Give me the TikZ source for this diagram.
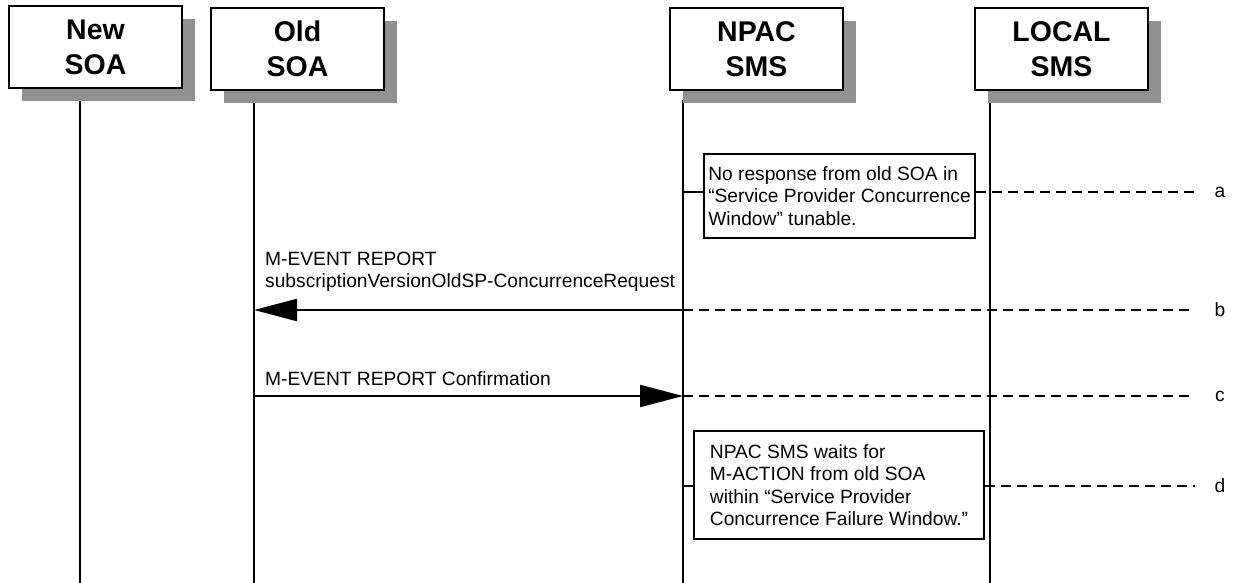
\documentclass[tikz,border=0pt]{standalone}
\usepackage{fontspec}
\setmainfont{Liberation Sans}
\usetikzlibrary{arrows.meta,shadows,calc}
\definecolor{shadowgray}{RGB}{145,145,145}
\begin{document}
\begin{tikzpicture}[x=1pt,y=-1pt,
  actor/.style={draw,line width=2pt,fill=white,minimum width=173pt,minimum height=82pt,
    inner sep=0pt,anchor=north west,align=center,
    font=\fontsize{28.5}{35}\selectfont\bfseries,
    drop shadow={shadow xshift=13pt,shadow yshift=-13pt,fill=shadowgray,opacity=1,draw=none}},
  life/.style={line width=1.6pt},
  notebox/.style={draw,line width=2pt,fill=white,inner sep=0pt,anchor=north west,align=left,
    font=\fontsize{19.2}{22.5}\selectfont},
  msg/.style={line width=2.2pt,-{Triangle[length=43pt,width=22pt]}},
  guide/.style={line width=2pt,dash pattern=on 10pt off 6pt},
  lbl/.style={font=\fontsize{19.2}{22.5}\selectfont,anchor=base west,inner sep=0pt},
  tag/.style={font=\fontsize{19.2}{22.5}\selectfont,inner sep=0pt}
]
\useasboundingbox (0,0) rectangle (1233,583);

% lifelines
\coordinate (nsT) at (80,100);  \coordinate (nsB) at (80,583);
\coordinate (osT) at (254,100); \coordinate (osB) at (254,583);
\coordinate (npT) at (683,100); \coordinate (npB) at (683,583);
\coordinate (lsT) at (990,100); \coordinate (lsB) at (990,583);
\draw[life] (nsT) -- (nsB);
\draw[life] (osT) -- (osB);
\draw[life] (npT) -- (npB);
\draw[life] (lsT) -- (lsB);

% actors
\node[actor] (ns) at (8,5) {New\\SOA};
\node[actor] (os) at (210,7) {Old\\SOA};
\node[actor] (np) at (669,7) {NPAC\\SMS};
\node[actor] (ls) at (974,7) {LOCAL\\SMS};

% a
\coordinate (aN) at (683,192);
\coordinate (aE) at (1195,192);
\node[notebox,minimum width=271pt,minimum height=84pt] (na) at (703,153)
  {No response from old SOA in\\“Service Provider Concurrence\\Window” tunable.};
\draw[life] (aN) -- (aN -| na.west);
\draw[guide] (aN -| na.east) -- (aE);
\node[tag] (ta) at (1220,192) {a};

% b
\coordinate (bN) at (683,310);
\coordinate (bO) at (254,310);
\coordinate (bE) at (1195,310);
\node[lbl] (lb1) at (265,265) {M-EVENT REPORT};
\node[lbl] (lb2) at (265,287) {subscriptionVersionOldSP-ConcurrenceRequest};
\draw[msg] (bN) -- (bO);
\draw[guide] (bN) -- (bE);
\node[tag] (tb) at (1220,310) {b};

% c
\coordinate (cO) at (254,396);
\coordinate (cN) at (683,396);
\coordinate (cE) at (1195,396);
\node[lbl] (lc) at (265,385) {M-EVENT REPORT Confirmation};
\draw[msg] (cO) -- (cN);
\draw[guide] (cN) -- (cE);
\node[tag] (tc) at (1220,396) {c};

% d
\coordinate (dN) at (683,486);
\coordinate (dE) at (1195,486);
\node[notebox,minimum width=290pt,minimum height=108pt] (nd) at (693,430)
  {NPAC SMS waits for\\M-ACTION from old SOA\\within “Service Provider\\Concurrence Failure Window.”};
\draw[life] (dN) -- (dN -| nd.west);
\draw[guide] (dN -| nd.east) -- (dE);
\node[tag] (td) at (1220,486) {d};
\end{tikzpicture}
\end{document}
